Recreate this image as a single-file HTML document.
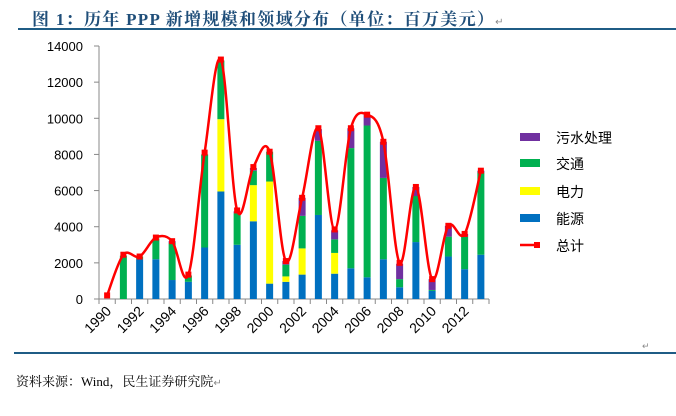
<!DOCTYPE html>
<html><head><meta charset="utf-8"><style>
body{margin:0;background:#fff;width:676px;height:416px;overflow:hidden;position:relative;font-family:"Liberation Serif","Noto Serif CJK SC",serif}
.t{position:absolute;left:32px;top:5px;font-size:17px;font-weight:bold;color:#1F4E79;white-space:nowrap;letter-spacing:1.3px}
.l1{position:absolute;left:18px;top:28px;width:658px;height:2px;background:#1F5C85}
.l2{position:absolute;left:14px;top:352px;width:662px;height:2px;background:#1F5C85}
.f{position:absolute;left:16px;top:371px;font-size:13px;color:#000}
</style></head><body>
<div class="t">图 1：历年 PPP 新增规模和领域分布（单位：百万美元）<span style="font-size:10px;color:#888;font-weight:normal">↵</span></div>
<div class="l1"></div><div class="l2"></div>
<div style="position:absolute;left:642px;top:341px;font-size:9px;color:#888">↵</div>
<div class="f">资料来源：Wind，民生证券研究院<span style="font-size:10px;color:#888">↵</span></div>
<svg id="s" width="676" height="416" style="position:absolute;left:0;top:0"></svg>
<script>
var d=[[0,0,0,0,200],[0,0,2400,0,2450],[2200,0,150,0,2350],[2200,0,1150,0,3400],[1050,0,2050,100,3200],[950,0,350,0,1350],[2850,0,5150,0,8100],[5950,4000,3250,0,13250],[3000,0,1750,100,4900],[4300,2000,800,150,7300],[850,5650,1650,0,8150],[950,300,650,200,2100],[1350,1450,1800,1000,5600],[4650,0,4100,650,9450],[1400,1150,750,500,3850],[1700,0,6650,1100,9450],[1200,0,8400,600,10200],[2200,0,4500,2000,8700],[650,0,450,850,2000],[3150,0,2550,500,6200],[450,0,50,600,1100],[2350,0,1100,600,4050],[1650,0,1800,150,3600],[2450,0,4550,100,7100]];
var c=['#0070C0','#FFFF00','#00B050','#7030A0'];
var X0=99,Y0=299,K=253/14000,W=16.25,h='';
function y(v){return Y0-v*K}
h+='<line x1="99" y1="46" x2="99" y2="299" stroke="#888"/><line x1="99" y1="299" x2="489" y2="299" stroke="#888"/>';
for(var v=0;v<=14000;v+=2000){h+='<line x1="94" x2="99" y1="'+y(v)+'" y2="'+y(v)+'" stroke="#888"/><text x="83" y="'+(y(v)+5)+'" text-anchor="end" font-family="Liberation Sans" font-size="13">'+v+'</text>';}
for(var i=0;i<=24;i++){var xx=X0+i*W;h+='<line x1="'+xx+'" x2="'+xx+'" y1="299" y2="304" stroke="#888"/>';}
var pts=[];
d.forEach(function(r,i){var cx=X0+W*(i+.5),b=0;for(var k=0;k<4;k++){if(r[k]>0){h+='<rect x="'+(cx-3.5)+'" y="'+y(b+r[k])+'" width="7" height="'+(r[k]*K)+'" fill="'+c[k]+'"/>';b+=r[k];}}
pts.push([cx,y(r[4])]);
if(i%2==0)h+='<text transform="translate('+(cx+5)+',312) rotate(-45)" text-anchor="end" font-family="Liberation Sans" font-size="14">'+(1990+i)+'</text>';});
var p='M'+pts[0][0]+','+pts[0][1];
for(var i=0;i<pts.length-1;i++){var p0=pts[Math.max(i-1,0)],p1=pts[i],p2=pts[i+1],p3=pts[Math.min(i+2,pts.length-1)];
p+=' C'+(p1[0]+(p2[0]-p0[0])/6)+','+(p1[1]+(p2[1]-p0[1])/6)+' '+(p2[0]-(p3[0]-p1[0])/6)+','+(p2[1]-(p3[1]-p1[1])/6)+' '+p2[0]+','+p2[1];}
h+='<path d="'+p+'" fill="none" stroke="#FF0000" stroke-width="2.5"/>';
pts.forEach(function(q){h+='<rect x="'+(q[0]-3)+'" y="'+(q[1]-3)+'" width="6" height="6" fill="#FF0000"/>';});
var lg=[['污水处理',c[3],137],['交通',c[2],163],['电力',c[1],191],['能源',c[0],218]];
lg.forEach(function(a){var yy=a[2];h+='<rect x="520" y="'+(yy-4)+'" width="20" height="8" fill="'+a[1]+'"/><text x="556" y="'+(yy+6)+'" font-family="Liberation Sans,Noto Sans CJK SC,sans-serif" font-size="14">'+a[0]+'</text>';});
h+='<line x1="520" x2="540" y1="245" y2="245" stroke="#f00" stroke-width="2.5"/><rect x="534" y="242" width="6" height="6" fill="#f00"/><text x="556" y="251" font-family="Liberation Sans,Noto Sans CJK SC,sans-serif" font-size="14">总计</text>';
document.getElementById('s').innerHTML=h;
</script>
</body></html>
